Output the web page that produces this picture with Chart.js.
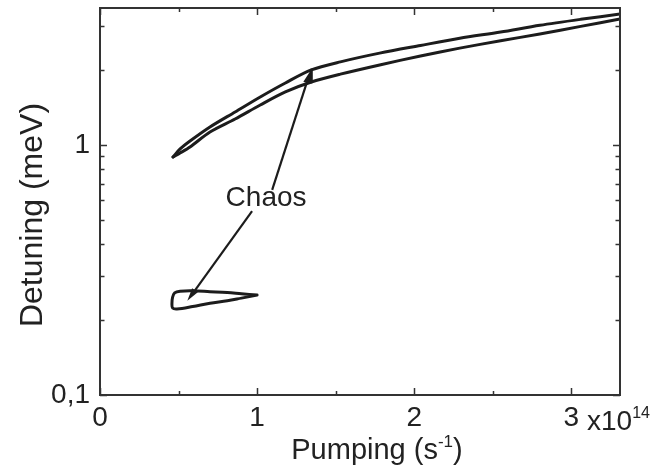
<!DOCTYPE html>
<html>
<head>
<meta charset="utf-8">
<script src="https://cdn.jsdelivr.net/npm/chart.js@4/dist/chart.umd.min.js"></script>
<style>
html,body{margin:0;padding:0;background:#fff;}
#wrap{width:656px;height:468px;}
</style>
</head>
<body>
<div id="wrap"><canvas id="c" width="656" height="468"></canvas></div>
<script>
// ---- data (pumping in units of 1e14 s^-1, detuning in meV) ----
const upperX = [0.465, 0.51, 0.573, 0.70, 0.86, 1.02, 1.18, 1.345, 1.53, 1.78, 2.04, 2.29, 2.55, 2.80, 3.06, 3.31];
const upperY = [0.895, 0.964, 1.037, 1.18, 1.355, 1.556, 1.77, 1.995, 2.15, 2.33, 2.50, 2.67, 2.83, 3.01, 3.18, 3.34];
const lowerX = [0.465, 0.51, 0.573, 0.70, 0.86, 1.02, 1.18, 1.345, 1.53, 1.78, 2.04, 2.29, 2.55, 2.80, 3.06, 3.31];
const lowerY = [0.895, 0.929, 0.982, 1.127, 1.27, 1.445, 1.63, 1.786, 1.92, 2.09, 2.27, 2.44, 2.61, 2.78, 2.98, 3.19];
const jumpX = [1.345, 1.345];
const jumpY = [1.786, 1.995];
const loopX = [1.0, 0.90, 0.81, 0.70, 0.59, 0.51, 0.475, 0.462, 0.458, 0.462, 0.49, 0.59, 0.70, 0.81, 0.90, 1.0];
const loopY = [0.251, 0.254, 0.257, 0.259, 0.261, 0.260, 0.256, 0.246, 0.232, 0.223, 0.221, 0.226, 0.233, 0.238, 0.244, 0.251];

// ---- axes / ticks ----
const xMajorTicks = [0, 1, 2, 3];
const xMinorTicks = [0.5, 1.5, 2.5];
const xTickLabels = ['0', '1', '2', '3'];
const yMajorTicks = [0.1, 1];
const yMinorTicks = [0.2, 0.3, 0.4, 0.5, 0.6, 0.7, 0.8, 0.9, 2, 3];
const yTickLabels = ['0,1', '1'];
const xRange = [0, 3.31];
const yRange = [0.1, 3.53];

// ---- texts / annotations ----
const xTitle = 'Pumping (s';
const xTitleSup = '-1';
const yTitle = 'Detuning (meV)';
const xExponentBase = 'x10';
const xExponentSup = '14';
const annotationText = 'Chaos';
const annotationAt = [1.057, 0.614];
const arrowTails = [[1.096, 0.661], [0.968, 0.544]];
const arrowHeads = [[1.341, 1.986], [0.556, 0.238]];

const pts = (xs, ys) => xs.map((x, i) => ({x: x, y: ys[i]}));
const INK = '#1c1c1c';
const FONT = '"Liberation Sans", Arial, Helvetica, sans-serif';

const lineDs = (data, tension) => ({
  data: data, showLine: true, borderColor: INK, borderWidth: 3,
  pointRadius: 0, tension: tension, fill: false,
  borderCapStyle: 'round', borderJoinStyle: 'round'
});

const decor = {
  id: 'decor',
  afterDraw(chart) {
    const ctx = chart.ctx, xs = chart.scales.x, ys = chart.scales.y, a = chart.chartArea;
    ctx.save();
    // frame
    ctx.strokeStyle = '#333';
    ctx.lineWidth = 2;
    ctx.strokeRect(a.left, a.top, a.right - a.left, a.bottom - a.top);
    // inward ticks
    ctx.lineWidth = 1.5;
    ctx.beginPath();
    const xt = (v, len) => {
      const p = Math.round(xs.getPixelForValue(v)) + 0.5;
      ctx.moveTo(p, a.bottom); ctx.lineTo(p, a.bottom - len);
      ctx.moveTo(p, a.top); ctx.lineTo(p, a.top + len);
    };
    const yt = (v, len) => {
      const p = Math.round(ys.getPixelForValue(v)) + 0.5;
      ctx.moveTo(a.left, p); ctx.lineTo(a.left + len, p);
      ctx.moveTo(a.right, p); ctx.lineTo(a.right - len, p);
    };
    xMajorTicks.forEach(v => xt(v, 7));
    xMinorTicks.forEach(v => xt(v, 4));
    yMajorTicks.forEach(v => yt(v, 7));
    yMinorTicks.forEach(v => yt(v, 4.5));
    ctx.stroke();

    ctx.fillStyle = '#222';
    ctx.textBaseline = 'alphabetic';
    // x title with superscript
    ctx.font = '29px ' + FONT;
    const w1 = ctx.measureText(xTitle).width;
    ctx.font = '17px ' + FONT;
    const w2 = ctx.measureText(xTitleSup).width;
    ctx.font = '29px ' + FONT;
    const w3 = ctx.measureText(')').width;
    let x0 = (a.left + a.right) / 2 + 17 - (w1 + w2 + w3) / 2;
    const by = 459;
    ctx.textAlign = 'left';
    ctx.fillText(xTitle, x0, by);
    ctx.font = '17px ' + FONT;
    ctx.fillText(xTitleSup, x0 + w1, by - 12);
    ctx.font = '29px ' + FONT;
    ctx.fillText(')', x0 + w1 + w2, by);

    // exponent label
    ctx.font = '28px ' + FONT;
    ctx.fillText(xExponentBase, a.right - 33, 430);
    const we = ctx.measureText(xExponentBase).width;
    ctx.font = '16px ' + FONT;
    ctx.fillText(xExponentSup, a.right - 33 + we, 418);

    // y title
    ctx.save();
    ctx.translate(42, 215);
    ctx.rotate(-Math.PI / 2);
    ctx.font = '32px ' + FONT;
    ctx.textAlign = 'center';
    ctx.fillText(yTitle, 0, 0);
    ctx.restore();

    // annotation
    ctx.font = '28px ' + FONT;
    ctx.textAlign = 'center';
    ctx.textBaseline = 'middle';
    ctx.fillStyle = '#222';
    ctx.fillText(annotationText, xs.getPixelForValue(annotationAt[0]), ys.getPixelForValue(annotationAt[1]));

    // arrows
    ctx.strokeStyle = INK;
    ctx.fillStyle = INK;
    ctx.lineWidth = 2.2;
    arrowTails.forEach((t, i) => {
      const h = arrowHeads[i];
      const x1 = xs.getPixelForValue(t[0]), y1 = ys.getPixelForValue(t[1]);
      const x2 = xs.getPixelForValue(h[0]), y2 = ys.getPixelForValue(h[1]);
      const ang = Math.atan2(y2 - y1, x2 - x1);
      const L = 13, W = 3.5;
      const bx = x2 - L * Math.cos(ang), byy = y2 - L * Math.sin(ang);
      ctx.beginPath();
      ctx.moveTo(x1, y1); ctx.lineTo(bx, byy);
      ctx.stroke();
      ctx.beginPath();
      ctx.moveTo(x2, y2);
      ctx.lineTo(bx + W * Math.sin(ang), byy - W * Math.cos(ang));
      ctx.lineTo(bx - W * Math.sin(ang), byy + W * Math.cos(ang));
      ctx.closePath();
      ctx.fill();
    });
    ctx.restore();
  }
};

new Chart(document.getElementById('c'), {
  type: 'scatter',
  data: {
    datasets: [
      lineDs(pts(upperX, upperY), 0.3),
      lineDs(pts(lowerX, lowerY), 0.3),
      lineDs(pts(jumpX, jumpY), 0),
      lineDs(pts(loopX, loopY), 0.35)
    ]
  },
  options: {
    responsive: false,
    animation: false,
    devicePixelRatio: 1,
    layout: {padding: {left: 0, right: 36, top: 8, bottom: 0}},
    plugins: {legend: {display: false}, tooltip: {enabled: false}},
    scales: {
      x: {
        type: 'linear', min: xRange[0], max: xRange[1],
        grid: {display: false, drawTicks: false}, border: {display: false},
        afterFit(s) { s.height = 73; s.paddingLeft = 0; s.paddingRight = 0; },
        afterBuildTicks(s) { s.ticks = xMajorTicks.map(v => ({value: v})); },
        ticks: {
          padding: 6, color: '#222', font: {family: FONT, size: 28},
          maxRotation: 0, autoSkip: false,
          callback: (v) => { const i = xMajorTicks.indexOf(v); return i >= 0 ? xTickLabels[i] : ''; }
        }
      },
      y: {
        type: 'logarithmic', min: yRange[0], max: yRange[1],
        grid: {display: false, drawTicks: false}, border: {display: false},
        afterFit(s) { s.width = 100; s.paddingTop = 0; s.paddingBottom = 0; },
        afterBuildTicks(s) { s.ticks = yMajorTicks.map(v => ({value: v})); },
        ticks: {
          padding: 10, color: '#222', font: {family: FONT, size: 28},
          autoSkip: false,
          callback: (v) => { const i = yMajorTicks.findIndex(t => Math.abs(t - v) < 1e-9); return i >= 0 ? yTickLabels[i] : ''; }
        }
      }
    }
  },
  plugins: [decor]
});
</script>
</body>
</html>
